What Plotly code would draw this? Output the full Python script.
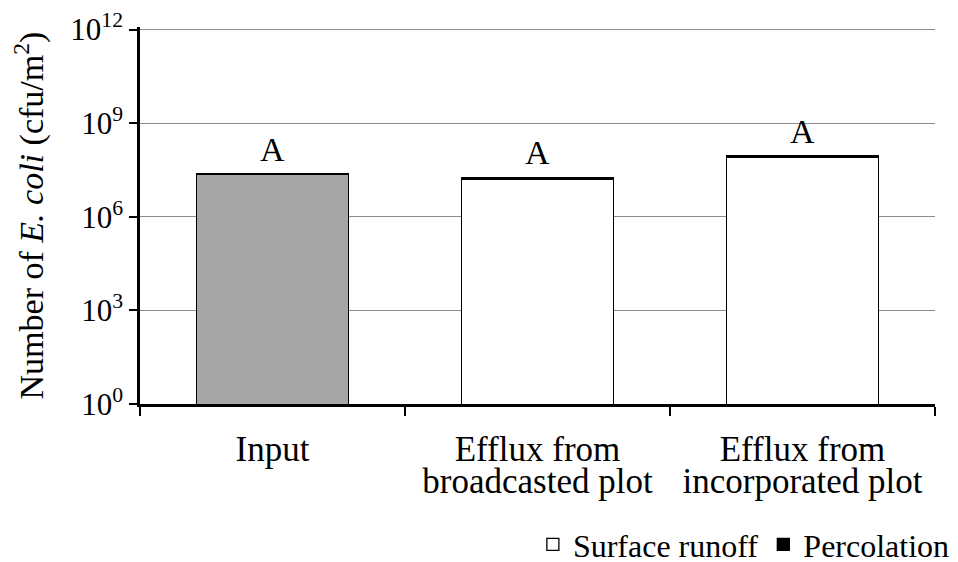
import math
import plotly.graph_objects as go

categories = ["Input", "Efflux from broadcasted plot", "Efflux from incorporated plot"]
label_lines = [["Input"], ["Efflux from", "broadcasted plot"], ["Efflux from", "incorporated plot"]]
input_values = [2.34e7, None, None]
surface_runoff = [None, 1.62e7, 8.0e7]
percolation = [None, 0.23e7, 1.1e7]
letters = ["A", "A", "A"]
tick_vals = [1, 1e3, 1e6, 1e9, 1e12]
tick_text = ["10<sup>0</sup>", "10<sup>3</sup>", "10<sup>6</sup>", "10<sup>9</sup>", "10<sup>12</sup>"]

font = "Liberation Serif"
label_size = 35

ticktext_x = ["<br>".join('<span style="font-size:%dpx">%s</span>' % (label_size, s) for s in lines)
              for lines in label_lines]

fig = go.Figure()
fig.add_trace(go.Bar(
    x=categories, y=input_values, name="Input", showlegend=False,
    marker=dict(color="#A6A6A6", line=dict(color="black", width=1.3)),
    width=0.575,
))
fig.add_trace(go.Bar(
    x=categories, y=surface_runoff, name="Surface runoff",
    marker=dict(color="#FFFFFF", line=dict(color="black", width=1.3)),
    width=0.575,
))
fig.add_trace(go.Bar(
    x=categories, y=percolation, name="Percolation",
    marker=dict(color="black", line=dict(color="black", width=1.3)),
    width=0.575,
))

totals = []
for a, b, c in zip(input_values, surface_runoff, percolation):
    totals.append((a or 0) + (b or 0) + (c or 0))
for c, t, l in zip(categories, totals, letters):
    fig.add_annotation(x=c, y=math.log10(t), yref="y", text=l, showarrow=False,
                       yanchor="bottom", yshift=4, font=dict(size=34, color="black", family=font))

fig.update_layout(
    barmode="stack",
    width=950, height=554,
    margin=dict(l=132, r=23, t=19, b=158, autoexpand=False),
    plot_bgcolor="white", paper_bgcolor="white",
    font=dict(family=font, size=32, color="black"),
    showlegend=True,
    legend=dict(orientation="h", x=1.025, xanchor="right", y=-0.30, yanchor="top",
                font=dict(size=32, family=font), traceorder="normal"),
)
fig.update_xaxes(
    type="category", range=[-0.5, 2.5],
    tickmode="array", tickvals=categories, ticktext=ticktext_x,
    showline=True, linecolor="black", linewidth=2.5,
    ticks="outside", tickson="boundaries", ticklen=9, tickwidth=2, tickcolor="black",
    tickfont=dict(size=25, family=font), automargin=False, ticklabelstandoff=24,
)
fig.update_yaxes(
    type="log", range=[0, 12.08],
    tickvals=tick_vals, ticktext=tick_text,
    showline=True, linecolor="black", linewidth=2.5,
    ticks="outside", ticklen=8, tickwidth=2, tickcolor="black",
    showgrid=True, gridcolor="#8C8C8C", gridwidth=1.2,
    tickfont=dict(size=31, family=font), automargin=False,
    ticklabeloverflow="allow",
    title=dict(text="Number of <i>E. coli</i> (cfu/m<sup>2</sup>)", font=dict(size=34, family=font), standoff=38),
    zeroline=False,
)

fig.write_html("out.html")
